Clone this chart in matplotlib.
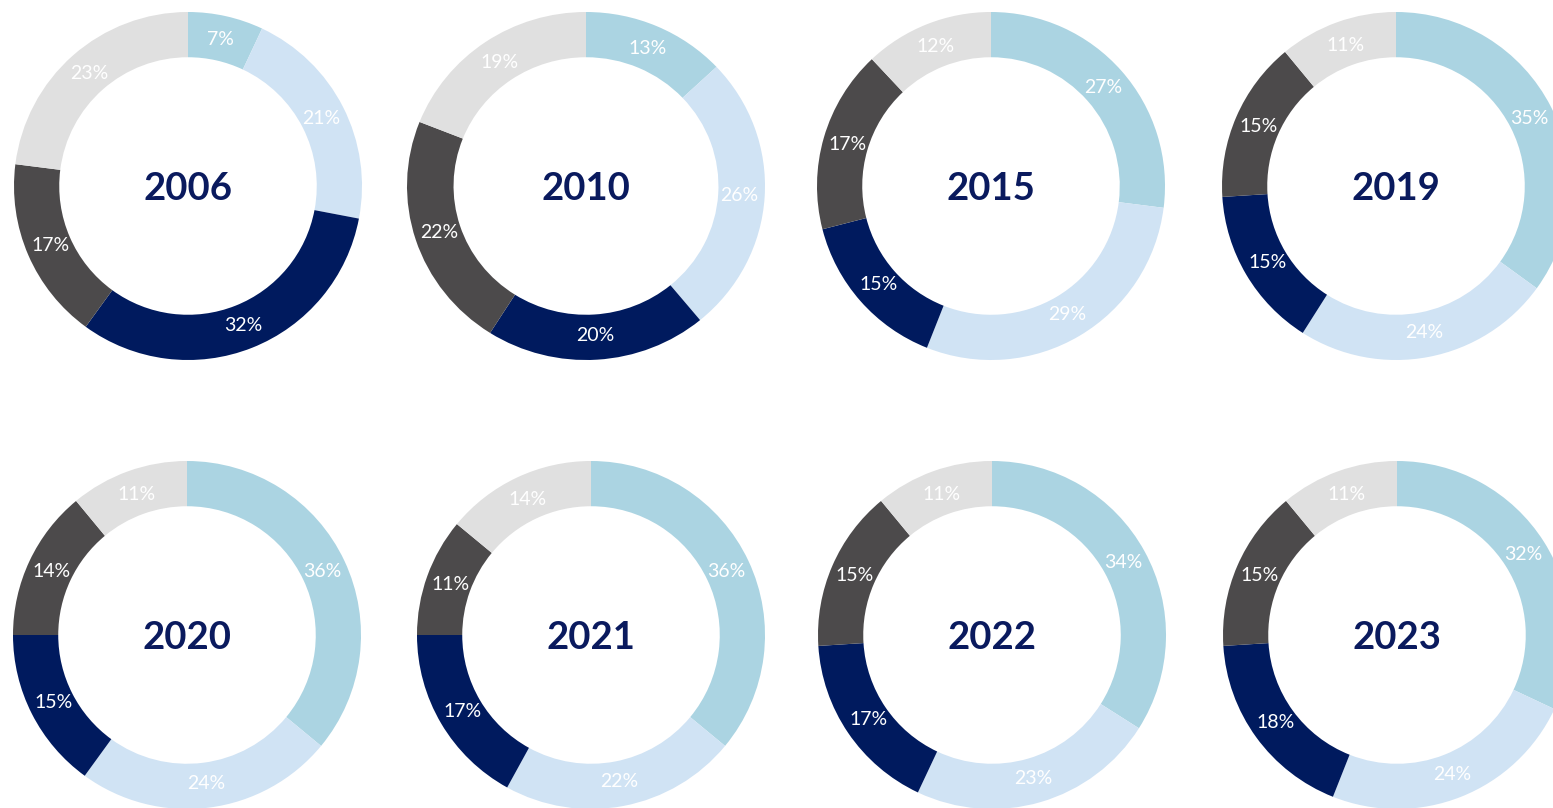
import matplotlib
matplotlib.use("Agg")
import matplotlib.pyplot as plt

# data (clockwise from 12 o'clock)
years = ["2006", "2010", "2015", "2019", "2020", "2021", "2022", "2023"]
share_a = [7, 13, 27, 35, 36, 36, 34, 32]    # light blue
share_b = [21, 26, 29, 24, 24, 22, 23, 24]   # pale blue
share_c = [32, 20, 15, 15, 15, 17, 17, 18]   # navy
share_d = [17, 22, 17, 15, 14, 11, 15, 15]   # dark grey
share_e = [23, 19, 12, 11, 11, 14, 11, 11]   # light grey

colors = ["#ABD4E2", "#D0E3F4", "#001A5E", "#4C4A4B", "#E0E0E0"]
navy = "#0A1A5E"

W, H = 1553, 808
# donut centres / radii in pixels
centers = [(188, 186), (586, 186), (991, 186), (1396, 186),
           (187, 635), (591, 635), (992, 635), (1397, 635)]
radii = [(174, 174), (179, 174), (174, 174), (174, 174),
         (174, 174), (174, 174), (174, 174), (174, 174)]

plt.rcParams["font.family"] = ["Lato", "DejaVu Sans"]

fig = plt.figure(figsize=(W / 100, H / 100), dpi=100)
fig.patch.set_facecolor("white")

for i, year in enumerate(years):
    cx, cy = centers[i]
    rx, ry = radii[i]
    ax = fig.add_axes([(cx - rx) / W, (H - cy - ry) / H, 2 * rx / W, 2 * ry / H])
    vals = [share_a[i], share_b[i], share_c[i], share_d[i], share_e[i]]
    wedges, texts, autotexts = ax.pie(
        vals, colors=colors, startangle=90, counterclock=False, radius=1,
        autopct=lambda p: f"{p:.0f}%", pctdistance=0.86,
        wedgeprops=dict(width=0.26, linewidth=0),
        textprops=dict(color="white", fontsize=14))
    ax.text(0, -0.02, year, ha="center", va="center", fontsize=27.5,
            fontweight="bold", color=navy)
    ax.set_xlim(-1, 1)
    ax.set_ylim(-1, 1)
    ax.set_aspect("auto")
    ax.axis("off")

fig.savefig("out.png", dpi=100, facecolor="white")
